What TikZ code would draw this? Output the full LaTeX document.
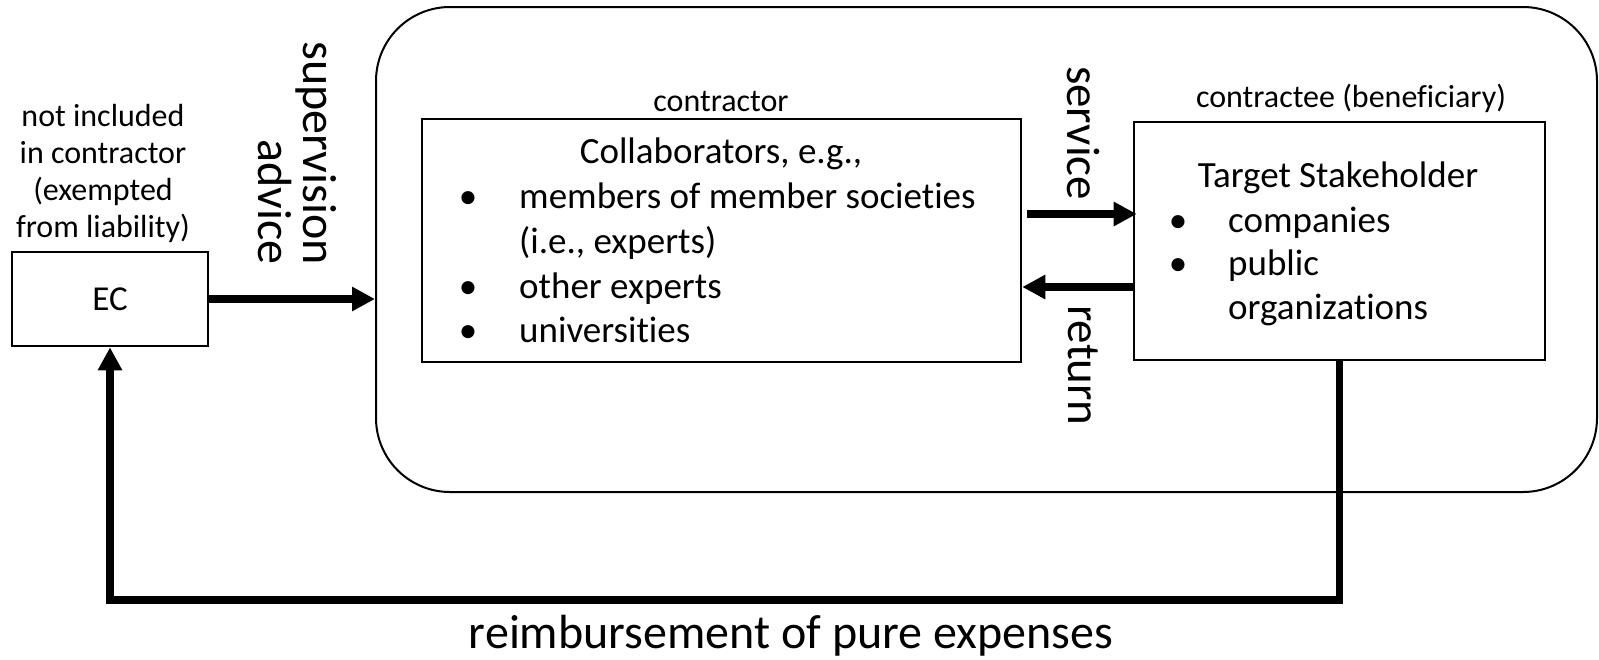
\documentclass[tikz,border=0pt]{standalone}
\usepackage{fontspec}
\setmainfont{Carlito}[Ligatures=CommonOff]
\usetikzlibrary{arrows.meta}

% font sizes (1pt = one unit of the drawing)
\newcommand{\txtbig}{\fontsize{37}{45}\selectfont}
\newcommand{\txtsmall}{\fontsize{32}{37}\selectfont}
\newcommand{\txtec}{\fontsize{35}{40}\selectfont}
\newcommand{\txtlarge}{\fontsize{48}{50}\selectfont}
\newcommand{\txtside}{\fontsize{47}{50}\selectfont}

\begin{document}
\begin{tikzpicture}[x=1pt,y=-1pt,
  box/.style={draw, line width=2.6pt, inner sep=0},
  big/.style={font=\txtbig, inner sep=0, anchor=base},
  lbl/.style={font=\txtsmall, inner sep=0, anchor=base},
  vlarge/.style={font=\txtlarge, inner sep=0, rotate=-90},
  vside/.style={font=\txtside, inner sep=0, rotate=-90},
  arr/.style={line width=7.5pt, -{Triangle[length=23pt,width=23pt]}}]

\useasboundingbox (0,0) rectangle (1599,659);

% outer rounded frame
\node[draw, line width=2pt, rounded corners=74pt, inner sep=0,
      minimum width=1221pt, minimum height=485pt] (frame) at (986.5,249.5) {};

% EC box and its note
\node[box, minimum width=196pt, minimum height=94pt, font=\txtec] (ec) at (110,299) {EC};
\node[lbl] (n1) at (103,126) {not included};
\node[lbl] (n2) at (103,163) {in contractor};
\node[lbl] (n3) at (103,200) {(exempted};
\node[lbl] (n4) at (103,237) {from liability)};

% contractor box
\node[box, minimum width=599pt, minimum height=243pt] (contractor) at (721.5,240.5) {};
\node[lbl] (lc) at (721,111) {contractor};
\node[big] (collab) at (721,163) {Collaborators, e.g.,};
\node[big] (b1) at (468,208) {\textbullet};
\node[big, anchor=base west] (m1) at (519,208) {members of member societies};
\node[big, anchor=base west] (m2) at (519,253) {(i.e., experts)};
\node[big] (b2) at (468,298) {\textbullet};
\node[big, anchor=base west] (m3) at (519,298) {other experts};
\node[big] (b3) at (468,342) {\textbullet};
\node[big, anchor=base west] (m4) at (519,342) {universities};

% target stakeholder box
\node[box, minimum width=411pt, minimum height=238pt] (target) at (1339.5,241) {};
\node[lbl] (lt) at (1351,107) {contractee (beneficiary)};
\node[big] (ts) at (1338,187) {Target Stakeholder};
\node[big] (b4) at (1178,232) {\textbullet};
\node[big, anchor=base west] (t1) at (1228,232) {companies};
\node[big] (b5) at (1178,275) {\textbullet};
\node[big, anchor=base west] (t2) at (1228,275) {public};
\node[big, anchor=base west] (t3) at (1228,319) {organizations};

% vertical labels
\node[vlarge, anchor=base east] (sup) at (303,265) {supervision};
\node[vlarge, anchor=base east] (adv) at (258,265) {advice};
\node[vside, anchor=base west] (svc) at (1067,66) {service};
\node[vside, anchor=base west] (ret) at (1068,305) {return};

% connectors
\draw[arr] (ec.east) -- (ec.east -| frame.west);

\coordinate (svcY) at (0,214);
\coordinate (retY) at (0,287);
\path (contractor.east |- svcY) coordinate (s0);
\path (target.west |- svcY) coordinate (s1);
\draw[arr] ([xshift=5pt]s0) -- ([xshift=4pt]s1);
\draw[arr] (target.west |- retY) -- (contractor.east |- retY);

\coordinate (corner) at (110,600);
\draw[arr] (target.south) |- (corner) -- (ec.south);
\node[font=\txtlarge, inner sep=0, anchor=base] (reimb) at (791,648)
  {reimbursement of pure expenses};

\end{tikzpicture}
\end{document}
